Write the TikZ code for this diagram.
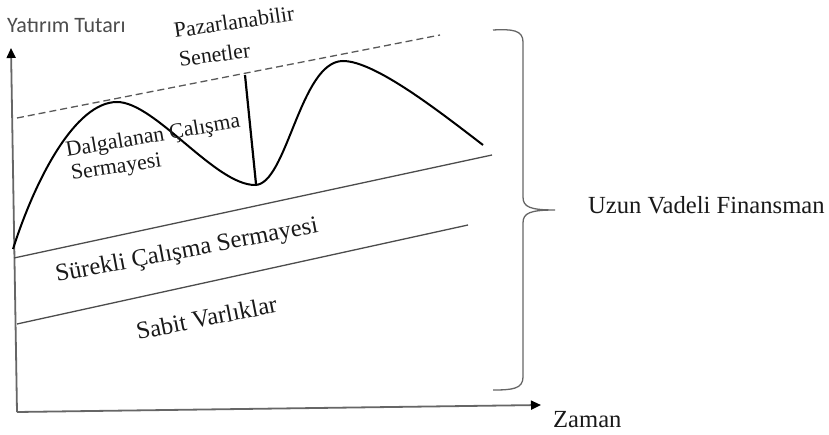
\documentclass[tikz,border=0pt]{standalone}
\usepackage{fontspec}
\setmainfont{Liberation Serif}
\newfontfamily\calfont{Carlito}
\usetikzlibrary{arrows.meta}
\begin{document}
\begin{tikzpicture}[x=1pt,y=-1pt,
  axisline/.style={draw=black!60,line width=1.8pt,-{Triangle[length=10pt,width=9pt,color=black]}},
  bandline/.style={draw=black!70,line width=1.3pt},
  dashline/.style={draw=black!65,line width=1.3pt,dash pattern=on 7pt off 4pt},
  wave/.style={draw=black,line width=2pt},
  lbl/.style={font=\fontsize{24.6}{27}\selectfont,text=black!90,inner sep=0pt,anchor=base west},
  slbl/.style={font=\fontsize{21.8}{24}\selectfont,text=black!90,inner sep=0pt,anchor=base west},
  bracestyle/.style={draw=black!60,line width=1.3pt}]
\useasboundingbox (0,0) rectangle (829,435);
% axes
\coordinate (O) at (17,412);
\coordinate (Ytip) at (11,48);
\coordinate (Xtip) at (541,405);
\draw[axisline] (O) -- (Ytip);
\draw[axisline] (O) -- (Xtip);
\node[inner sep=0pt,anchor=base west,font=\calfont\fontsize{22}{24}\selectfont,text=black!70] (ylab) at (7,33) {Yatırım Tutarı};
\node[lbl] (xlab) at (553,427) {Zaman};
% dashed top line
\coordinate (d1) at (17,118);
\coordinate (d2) at (440,35);
\draw[dashline] (d1) -- (d2);
% band lines
\coordinate (b1) at (14,258);
\coordinate (b2) at (492,155);
\coordinate (c1) at (17,324);
\coordinate (c2) at (468,225);
\draw[bandline] (b1) -- (b2);
\draw[bandline] (c1) -- (c2);
% wave
\coordinate (w0) at (13,249);
\coordinate (w1) at (117,102);
\coordinate (w2) at (255,185);
\coordinate (w3) at (343,61);
\coordinate (w4) at (483,145);
\draw[wave] (w0) .. controls (35,180) and (75,102) .. (w1)
  .. controls (155,102) and (215,185) .. (w2)
  .. controls (287,185) and (300,61) .. (w3)
  .. controls (375,61) and (440,112) .. (w4);
% vertical line
\coordinate (v1) at (245,75);
\coordinate (v2) at (256,184);
\draw[draw=black,line width=2.2pt] (v1) -- (v2);
% labels
\node[slbl,rotate=8.4] (paz) at (175,38) {Pazarlanabilir};
\node[slbl,rotate=8] (sen) at (180,67) {Senetler};
\node[slbl,rotate=9.7] (dal) at (67,157) {Dalgalanan Çalışma};
\node[slbl,rotate=8.4] (ser) at (72,180) {Sermayesi};
\node[lbl,rotate=10.7] (sur) at (57,282) {Sürekli Çalışma Sermayesi};
\node[lbl,rotate=11.3] (sab) at (138,340) {Sabit Varlıklar};
% brace
\coordinate (bt) at (493,30);
\coordinate (bm) at (555,210);
\coordinate (bb) at (493,390);
\draw[bracestyle] (bt) .. controls (512,29) and (523,30) .. (523,42) -- (523,197)
  .. controls (523,207) and (530,210) .. (bm)
  .. controls (530,210) and (523,213) .. (523,223) -- (523,377)
  .. controls (523,389) and (512,390) .. (bb);
\node[lbl] (uzun) at (588,214) {Uzun Vadeli Finansman};
\end{tikzpicture}
\end{document}
